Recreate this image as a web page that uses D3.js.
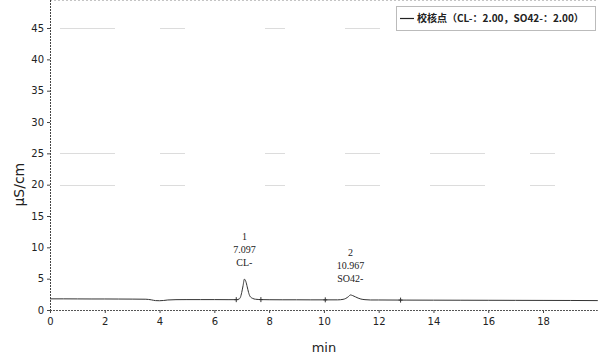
<!DOCTYPE html>
<html>
<head>
<meta charset="utf-8">
<script src="https://cdn.jsdelivr.net/npm/d3@7"></script>
<style>
  html, body { margin: 0; padding: 0; background: #fff; }
  svg { display: block; }
  text { fill: #222; }
</style>
</head>
<body>
<div id="chart"></div>
<script>
// Chromatogram of the check standard (conductivity vs retention time)
const times = [0, 0.5, 1, 1.5, 2, 2.5, 3, 3.5, 3.7, 3.85, 4.0, 4.15, 4.3, 4.6, 5, 5.5, 6, 6.5, 6.8, 6.9, 6.95, 7.0, 7.05,
  7.097, 7.15, 7.2, 7.25, 7.3, 7.4, 7.5, 7.7, 8, 8.5, 9, 9.5, 10, 10.5, 10.7, 10.8, 10.9, 10.967, 11.05, 11.15, 11.25,
  11.35, 11.5, 11.7, 12, 13, 14, 15, 16, 17, 18, 19, 20];
const signal = [1.78, 1.78, 1.77, 1.76, 1.76, 1.75, 1.74, 1.72, 1.62, 1.5, 1.48, 1.52, 1.6, 1.65, 1.66, 1.66, 1.66, 1.65, 1.65, 1.75, 2.0, 2.8, 3.9,
  4.92, 4.55, 3.7, 2.8, 2.2, 1.85, 1.72, 1.66, 1.64, 1.63, 1.63, 1.62, 1.62, 1.62, 1.7, 1.85, 2.15, 2.4, 2.3, 2.1, 1.9,
  1.75, 1.65, 1.6, 1.6, 1.58, 1.57, 1.56, 1.55, 1.54, 1.53, 1.52, 1.5];

// Integrated peaks
const peakNo = ["1", "2"];
const peakTime = [7.097, 10.967];
const peakHeight = [4.92, 2.4];
const peakName = ["CL-", "SO42-"];

// Baseline integration marks (min)
const baseMarks = [6.8, 7.7, 10.05, 12.8];

const xTicks = [0, 2, 4, 6, 8, 10, 12, 14, 16, 18];
const yTicks = [0, 5, 10, 15, 20, 25, 30, 35, 40, 45];
const gridLevels = [20, 25, 45];

const legendLabel = "校核点（CL-：2.00，SO42-：2.00）";
const xTitle = "min";
const yTitle = "µS/cm";

const W = 599, H = 359;
const x = d3.scaleLinear().domain([0, 20]).range([50, 597.8]);
const y = d3.scaleLinear().domain([0, 50]).range([310, -3.3]);

const svg = d3.select("#chart").append("svg").attr("width", W).attr("height", H);

// faint horizontal guides
svg.append("g").selectAll("line").data(gridLevels).join("line")
  .attr("x1", x(0) + 10).attr("x2", x(20))
  .attr("y1", d => Math.round(y(d)) + 0.5).attr("y2", d => Math.round(y(d)) + 0.5)
  .attr("stroke", "#dcdcdc").attr("stroke-width", 1)
  .attr("stroke-dasharray", "55 45 25 80 20 60 35 50");

// top frame (dotted)
svg.append("line").attr("x1", x(0)).attr("x2", x(20)).attr("y1", 0.5).attr("y2", 0.5)
  .attr("stroke", "#c4c4c4").attr("stroke-dasharray", "2 2");

// y axis
const yAxis = svg.append("g").attr("transform", `translate(${x(0)},0)`)
  .call(d3.axisLeft(y).tickValues(yTicks).tickSize(3).tickPadding(3).tickFormat(d3.format("d")));
yAxis.select(".domain").remove();
yAxis.append("line").attr("x1", 0.5).attr("x2", 0.5).attr("y1", 0).attr("y2", y(0))
  .attr("stroke", "#444").attr("stroke-dasharray", "2 1");
yAxis.selectAll(".tick line").attr("stroke", "#444");
yAxis.selectAll(".tick text").attr("font-family", "DejaVu Sans, sans-serif").attr("font-size", 10).attr("fill", "#111");

// x axis
const xAxis = svg.append("g").attr("transform", `translate(0,${y(0)})`)
  .call(d3.axisBottom(x).tickValues(xTicks).tickSize(3).tickPadding(5).tickFormat(d3.format("d")));
xAxis.select(".domain").remove();
xAxis.append("line").attr("x1", x(0)).attr("x2", x(20)).attr("y1", 0.5).attr("y2", 0.5)
  .attr("stroke", "#555").attr("stroke-dasharray", "2 1");
xAxis.selectAll(".tick line").attr("stroke", "#444");
xAxis.selectAll(".tick text").attr("font-family", "DejaVu Sans, sans-serif").attr("font-size", 10).attr("fill", "#111");

// axis titles
svg.append("text").attr("x", x(10)).attr("y", 352).attr("text-anchor", "middle")
  .attr("font-family", "DejaVu Sans, sans-serif").attr("font-size", 13).text(xTitle);
svg.append("text").attr("transform", `translate(24,${y(20)}) rotate(-90)`).attr("text-anchor", "middle")
  .attr("font-family", "DejaVu Sans, sans-serif").attr("font-size", 14).text(yTitle);

// signal trace
const pts = times.map((t, i) => [t, signal[i]]);
svg.append("path").datum(pts)
  .attr("d", d3.line().x(d => x(d[0])).y(d => y(d[1])).curve(d3.curveMonotoneX))
  .attr("fill", "none").attr("stroke", "#333").attr("stroke-width", 1);

// baseline marks
const markY = t => y(signal[d3.bisectLeft(times, t)] ?? signal[signal.length - 1]);
svg.append("g").selectAll("path").data(baseMarks).join("path")
  .attr("d", t => { const cx = x(t), cy = markY(t); return `M${cx - 2},${cy}H${cx + 2}M${cx},${cy - 2.5}V${cy + 2.5}`; })
  .attr("stroke", "#333").attr("stroke-width", 1).attr("fill", "none");

// peak annotations
const ann = svg.append("g").attr("font-family", "Liberation Serif, serif").attr("font-size", 10).attr("text-anchor", "middle");
peakTime.forEach((t, i) => {
  const top = y(peakHeight[i]) - 13;
  ann.append("text").attr("x", x(t)).attr("y", top - 26).text(peakNo[i]);
  ann.append("text").attr("x", x(t)).attr("y", top - 13).text(t.toFixed(3));
  ann.append("text").attr("x", x(t)).attr("y", top).text(peakName[i]);
});

// legend
const lg = svg.append("g");
lg.append("rect").attr("x", 396.5).attr("y", 6.5).attr("width", 199).attr("height", 24)
  .attr("fill", "#fff").attr("stroke", "#777").attr("stroke-dasharray", "1 1");
lg.append("line").attr("x1", 400).attr("x2", 414).attr("y1", 18.5).attr("y2", 18.5)
  .attr("stroke", "#222").attr("stroke-width", 1.2);
lg.append("text").attr("x", 417).attr("y", 22).attr("font-family", "Noto Sans CJK SC, sans-serif")
  .attr("font-size", 10).attr("font-weight", "bold").text(legendLabel);
</script>
</body>
</html>
